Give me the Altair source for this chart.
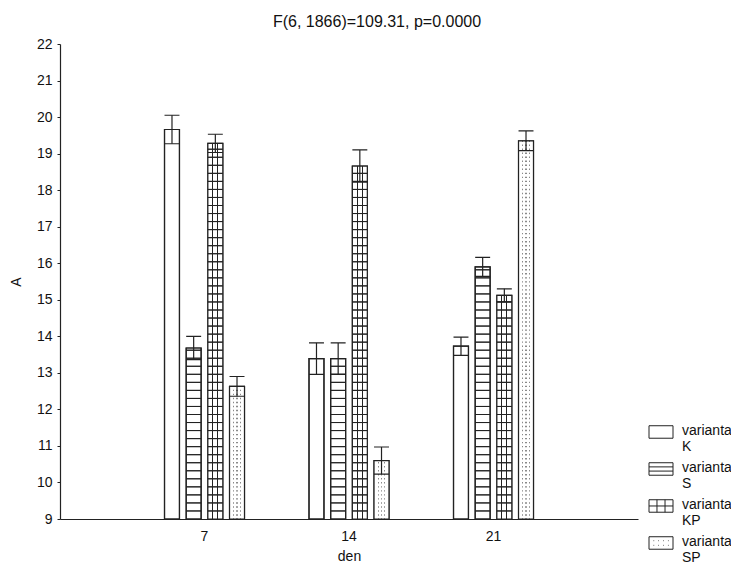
import altair as alt
import pandas as pd
import numpy as np

days = ["7", "14", "21"]
variants = ["varianta K", "varianta S", "varianta KP", "varianta SP"]

mean_K = [19.66, 13.39, 13.73]
mean_S = [13.68, 13.39, 15.90]
mean_KP = [19.28, 18.66, 15.12]
mean_SP = [12.63, 10.60, 19.35]

err_K = [0.39, 0.43, 0.25]
err_S = [0.32, 0.43, 0.26]
err_KP = [0.25, 0.44, 0.18]
err_SP = [0.27, 0.37, 0.27]

y_ticks = list(range(9, 23))

means = [mean_K, mean_S, mean_KP, mean_SP]
errs = [err_K, err_S, err_KP, err_SP]

rows = []
for v, m, e in zip(variants, means, errs):
    for d, mv, ev in zip(days, m, e):
        rows.append({"den": d, "varianta": v, "mean": mv, "lo": mv - ev, "hi": mv + ev, "base": 9})
df = pd.DataFrame(rows)

# decorative fill-pattern lines (not data): horizontal hatch for S/KP, dot breaks for SP
hatch_step = 0.22
dot_step = 0.11
hrows, drows = [], []
for r in rows:
    if r["varianta"] in ("varianta S", "varianta KP"):
        for lv in np.arange(9 + hatch_step, r["mean"] - 0.05, hatch_step):
            hrows.append({"den": r["den"], "varianta": r["varianta"], "level": float(lv)})
    if r["varianta"] == "varianta SP":
        for lv in np.arange(9 + dot_step / 2, r["mean"], dot_step):
            drows.append({"den": r["den"], "varianta": r["varianta"], "level": float(lv)})
hdf = pd.DataFrame(hrows)
ddf = pd.DataFrame(drows)

FONT = "Liberation Sans"
INK = "#222222"


def stops(pairs):
    return [{"color": c, "offset": o} for c, o in pairs]


kp_fill = {"gradient": "linear", "x1": 0, "x2": 1, "y1": 0, "y2": 0,
           "stops": stops([("white", 0), ("white", 0.3), (INK, 0.3), (INK, 0.367), ("white", 0.367),
                           ("white", 0.633), (INK, 0.633), (INK, 0.7), ("white", 0.7), ("white", 1)])}
GR = "#8a8a8a"
sp_fill = {"gradient": "linear", "x1": 0, "x2": 1, "y1": 0, "y2": 0,
           "stops": stops([("white", 0), ("white", 0.235), (GR, 0.235), (GR, 0.305), ("white", 0.305),
                           ("white", 0.465), (GR, 0.465), (GR, 0.535), ("white", 0.535),
                           ("white", 0.695), (GR, 0.695), (GR, 0.765), ("white", 0.765), ("white", 1)])}

xenc = alt.X("den:N", scale=alt.Scale(domain=days, paddingInner=0.4, paddingOuter=0.7),
             axis=alt.Axis(title="den", labelAngle=0, tickSize=0, labelPadding=10,
                           titlePadding=6))
xoff = alt.XOffset("varianta:N", scale=alt.Scale(domain=variants, paddingInner=0.31, paddingOuter=0.155))
yscale = alt.Scale(domain=[9, 22], nice=False, zero=False)
yaxis = alt.Axis(title="A", values=y_ticks, tickCount=14, tickSize=3, labelPadding=5, titlePadding=13,
                 grid=False, labelOverlap=False, labelFlush=False)


def Y(field):
    return alt.Y(field, scale=yscale, axis=yaxis, title="A")


base = alt.Chart(df)

bars = base.mark_bar(fill="white", stroke=INK, strokeWidth=1.2).encode(
    x=xenc, xOffset=xoff, y=Y("mean:Q"), y2="base:Q")

kp_bars = base.transform_filter(alt.datum.varianta == "varianta KP").mark_bar(
    fill=kp_fill, strokeWidth=0).encode(x=xenc, xOffset=xoff, y=Y("mean:Q"), y2="base:Q")

sp_bars = base.transform_filter(alt.datum.varianta == "varianta SP").mark_bar(
    fill=sp_fill, strokeWidth=0).encode(x=xenc, xOffset=xoff, y=Y("mean:Q"), y2="base:Q")

sp_breaks = alt.Chart(ddf).mark_bar(fillOpacity=0, stroke="white", strokeWidth=2.6).encode(
    x=xenc, xOffset=xoff, y=Y("level:Q"), y2="level:Q")

hlines = alt.Chart(hdf).mark_bar(fillOpacity=0, stroke=INK, strokeWidth=1).encode(
    x=xenc, xOffset=xoff, y=Y("level:Q"), y2="level:Q")

outline = base.mark_bar(fillOpacity=0, stroke=INK, strokeWidth=1.2).encode(
    x=xenc, xOffset=xoff, y=Y("mean:Q"), y2="base:Q")

err_rule = base.mark_rule(stroke=INK, strokeWidth=1.2).encode(
    x=xenc, xOffset=xoff, y=Y("lo:Q"), y2="hi:Q")

cap_hi = base.mark_bar(fillOpacity=0, stroke=INK, strokeWidth=1.2).encode(
    x=xenc, xOffset=xoff, y=Y("hi:Q"), y2="hi:Q")
cap_lo = base.mark_bar(fillOpacity=0, stroke=INK, strokeWidth=1.2).encode(
    x=xenc, xOffset=xoff, y=Y("lo:Q"), y2="lo:Q")

# legend symbols: custom paths (scale r = sqrt(size)/2 = 6), shifted to sit by the first label line
R = "M-2,0.29H2V2.37H-2Z"
shape_paths = [
    R,
    R + " M-2,0.98H2 M-2,1.68H2",
    R + " M-2,1.33H2 M-0.67,0.29V2.37 M0.67,0.29V2.37",
    R + " M-1.24,0.95h0.1 M-0.44,0.95h0.1 M0.36,0.95h0.1 M1.16,0.95h0.1"
        " M-1.24,1.72h0.1 M-0.44,1.72h0.1 M0.36,1.72h0.1 M1.16,1.72h0.1",
]

legend_pts = base.mark_point(opacity=0, filled=False).encode(
    x=xenc, xOffset=xoff, y=Y("mean:Q"),
    shape=alt.Shape("varianta:N", scale=alt.Scale(domain=variants, range=shape_paths),
                    legend=alt.Legend(title=None, orient="none", legendX=594, legendY=373,
                                      symbolSize=144, symbolStrokeColor=INK, symbolFillColor="white",
                                      symbolStrokeWidth=1, symbolOpacity=1,
                                      labelExpr="split(datum.label, ' ')",
                                      labelBaseline="top", labelFontSize=14, labelFont=FONT,
                                      labelColor="#111111", labelOffset=14, labelLimit=200,
                                      rowPadding=0, padding=0)),
)

chart = alt.layer(bars, kp_bars, sp_bars, sp_breaks, hlines, outline, err_rule, cap_hi, cap_lo,
                  legend_pts).properties(
    width=578, height=475,
    title=alt.TitleParams("F(6, 1866)=109.31, p=0.0000", fontSize=16, fontWeight="normal",
                          font=FONT, color="#111111", dx=28, offset=7),
    autosize=alt.AutoSizeParams(type="none"),
    padding={"left": 52, "top": 36, "right": 93, "bottom": 46},
).configure_view(stroke=None).configure_axis(
    labelFont=FONT, titleFont=FONT, labelFontSize=14, titleFontSize=14, titleFontWeight="normal",
    labelColor="#111111", titleColor="#111111", domainColor=INK, tickColor=INK, domainWidth=1.2,
)

chart.save("out.html", embed_options={"renderer": "svg", "actions": False})
